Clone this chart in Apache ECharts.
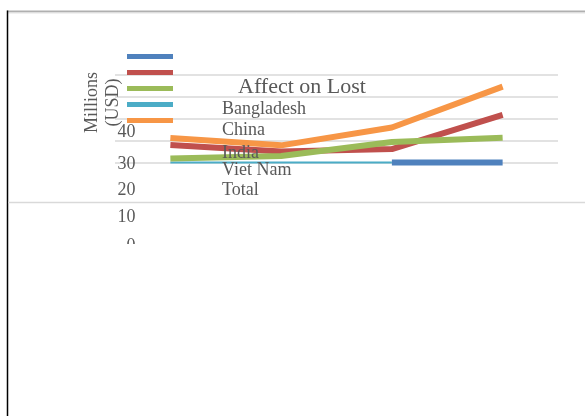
<!DOCTYPE html>
<html>
<head>
<meta charset="utf-8">
<title>Affect on Lost</title>
<script src="https://cdn.jsdelivr.net/npm/echarts@6/dist/echarts.min.js"></script>
<style>
  html, body { margin: 0; padding: 0; background: #fff; }
  #chart { width: 585px; height: 416px; }
</style>
</head>
<body>
<div id="chart"></div>
<script>
// Chart data
const chartTitle = 'Affect on Lost';
const axisTitle = 'Millions\n(USD)';
const categories = ['Q1', 'Q2', 'Q3', 'Q4'];
const seriesNames = ['Bangladesh', 'China', 'India', 'Viet Nam', 'Total'];
const bangladesh = [null, null, 0, 0];
const china = [8.0, 5.0, 6.1, 21.6];
const india = [1.8, 3.0, 9.3, 11.3];
const vietNam = [0, 0, 0, null];
const total = [11.1, 7.8, 15.9, 34.5];
const tickLabels = ['40', '30', '20', '10', '0'];

// Styling
const FONT = '"Liberation Serif", "Times New Roman", serif';
const TEXT = '#595959';
const colors = {
  'Bangladesh': '#4f81bd',
  'China': '#c0504d',
  'India': '#9bbb59',
  'Viet Nam': '#4bacc6',
  'Total': '#f79646'
};
const values = {
  'Bangladesh': bangladesh,
  'China': china,
  'India': india,
  'Viet Nam': vietNam,
  'Total': total
};

// Layout of the free-floating text pieces
const legendTextX = 222;
const legendTextY = [109.5, 130.5, 153, 170, 190];
const tickRight = 135.5;
const tickY = [132.5, 164.5, 190, 217.5, 246.5];

const chart = echarts.init(document.getElementById('chart'), null, { renderer: 'canvas' });

function lineSeries(name, width, z) {
  return {
    name: name,
    type: 'line',
    data: values[name],
    symbol: 'none',
    clip: false,
    connectNulls: false,
    z: z,
    itemStyle: { color: colors[name] },
    lineStyle: { color: colors[name], width: width, cap: 'butt', join: 'round' },
    emphasis: { disabled: true },
    silent: true
  };
}

const graphics = [];

// frame: top rule, left rule and the lower full-width rule
graphics.push({
  type: 'line', shape: { x1: 7, y1: 11.5, x2: 585, y2: 11.5 },
  style: { stroke: '#b0b0b0', lineWidth: 2 }, z: 10
});
graphics.push({
  type: 'line', shape: { x1: 8, y1: 13, x2: 585, y2: 13 },
  style: { stroke: '#e4e4e4', lineWidth: 1 }, z: 10
});
graphics.push({
  type: 'line', shape: { x1: 7.5, y1: 10.5, x2: 7.5, y2: 416 },
  style: { stroke: '#000', lineWidth: 1.5 }, z: 10
});
graphics.push({
  type: 'line', shape: { x1: 8, y1: 202.5, x2: 585, y2: 202.5 },
  style: { stroke: '#d9d9d9', lineWidth: 1.5 }, z: 10
});

// legend labels
seriesNames.forEach(function (name, i) {
  graphics.push({
    type: 'text', x: legendTextX, y: legendTextY[i], z: 20,
    style: { text: name, fill: TEXT, font: '18px ' + FONT, textAlign: 'left', textVerticalAlign: 'middle', verticalAlign: 'middle' }
  });
});

// value tick labels
tickLabels.forEach(function (t, i) {
  graphics.push({
    type: 'text', x: tickRight, y: tickY[i], z: 20,
    style: { text: t, fill: TEXT, font: '18px ' + FONT, textAlign: 'right', textVerticalAlign: 'middle', verticalAlign: 'middle' }
  });
});
// lower edge of the last tick label is cut off
graphics.push({
  type: 'rect', shape: { x: 100, y: 244, width: 45, height: 20 },
  style: { fill: '#fff' }, z: 30
});

// axis title
graphics.push({
  type: 'text', x: 102.5, y: 102.5, rotation: Math.PI / 2, z: 20,
  style: { text: axisTitle, fill: TEXT, font: '18px ' + FONT, lineHeight: 21, textAlign: 'center', textVerticalAlign: 'middle', verticalAlign: 'middle' }
});

const option = {
  animation: false,
  backgroundColor: '#fff',
  title: {
    text: chartTitle,
    left: 238,
    top: 76,
    padding: 0,
    textStyle: { fontFamily: FONT, fontSize: 22, fontWeight: 'normal', color: TEXT, lineHeight: 22 }
  },
  legend: {
    data: seriesNames,
    orient: 'vertical',
    left: 127,
    top: 54,
    padding: 0,
    itemWidth: 46,
    itemHeight: 5,
    itemGap: 11,
    icon: 'rect',
    selectedMode: false,
    formatter: function () { return ''; },
    textStyle: { fontSize: 5, lineHeight: 5 }
  },
  grid: { left: 115, right: 27, top: 74.5, height: 88, containLabel: false },
  xAxis: {
    type: 'category',
    data: categories,
    boundaryGap: true,
    axisLine: { show: false },
    axisTick: { show: false },
    axisLabel: { show: false },
    splitLine: { show: false }
  },
  yAxis: {
    type: 'value',
    min: 0,
    max: 40,
    interval: 10,
    axisLine: { show: false },
    axisTick: { show: false },
    axisLabel: { show: false },
    splitLine: { lineStyle: { color: '#d9d9d9', width: 1.5 } }
  },
  series: [
    lineSeries('Viet Nam', 2, 2),
    lineSeries('Bangladesh', 6, 3),
    lineSeries('China', 6, 3),
    lineSeries('India', 6, 3),
    lineSeries('Total', 6, 3)
  ],
  graphic: graphics
};

chart.setOption(option);
</script>
</body>
</html>
